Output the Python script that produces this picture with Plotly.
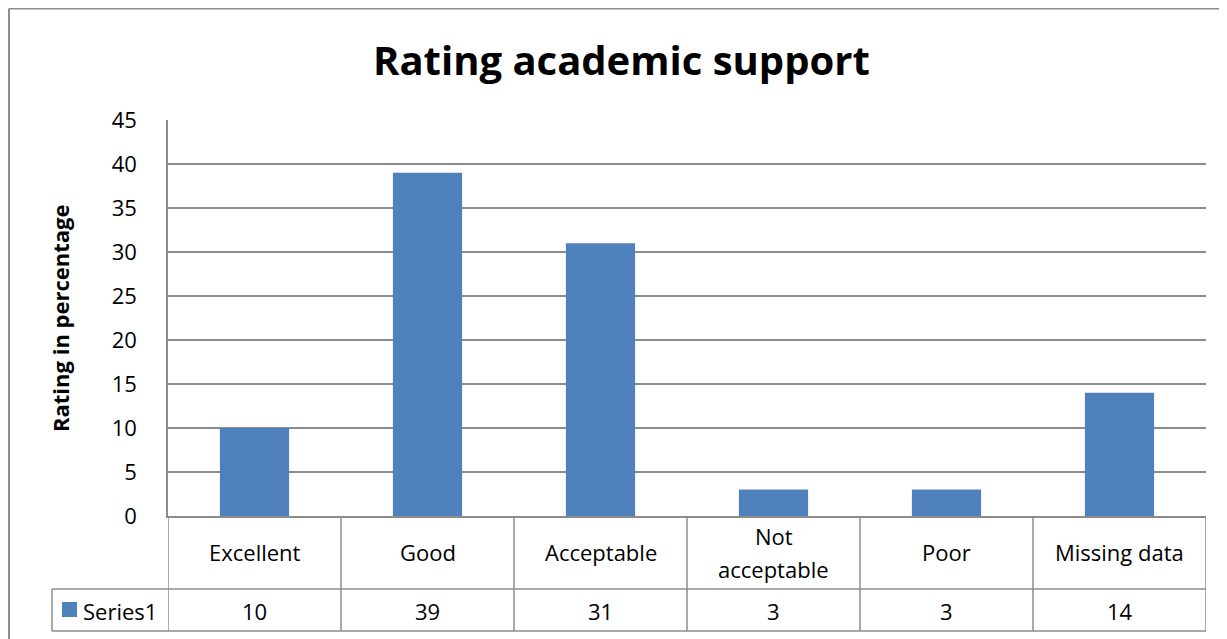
import plotly.graph_objects as go

categories = ["Excellent", "Good", "Acceptable", "Not<br>acceptable", "Poor", "Missing data"]
values = [10, 39, 31, 3, 3, 14]
series_name = "Series1"
y_ticks = [0, 5, 10, 15, 20, 25, 30, 35, 40, 45]

OFF = 8                      # default page body margin
W, H = 1227 - OFF, 639 - OFF
FONT = "'Open Sans', sans-serif"
BAR = "#4F81BD"
LINE = "#8C8C8C"
TXT = "#000000"


def px(xs):
    return (xs - OFF) / W


def py(ys):
    return 1 - (ys - OFF) / H


x0p, x1p = 168, 1206
ytop, ybot = 120, 516
row1, row2 = 589, 631

fig = go.Figure()
fig.add_trace(go.Bar(x=list(range(len(categories))), y=values, marker_color=BAR,
                     marker_line_width=0, name=series_name, showlegend=False,
                     hoverinfo="y"))

shapes = []
annotations = []
n = len(categories)
lw = 1.5
# table horizontal lines
for yy in (row1, row2):
    shapes.append(dict(type="line", xref="paper", yref="paper", x0=px(52), x1=px(x1p),
                       y0=py(yy), y1=py(yy), line=dict(color=LINE, width=lw)))
# table vertical lines (at category boundaries)
for i in range(n + 1):
    shapes.append(dict(type="line", xref="x", yref="paper", x0=i - 0.5, x1=i - 0.5,
                       y0=py(ybot), y1=py(row2), line=dict(color=LINE, width=lw)))
shapes.append(dict(type="line", xref="paper", yref="paper", x0=px(52), x1=px(52),
                   y0=py(row1), y1=py(row2), line=dict(color=LINE, width=lw)))
# legend key
shapes.append(dict(type="rect", xref="paper", yref="paper", x0=px(62), x1=px(77),
                   y0=py(617), y1=py(602), fillcolor=BAR, line=dict(width=0)))
# outer chart border (top and left visible)
shapes.append(dict(type="line", xref="paper", yref="paper", x0=0.0008, x1=1.0,
                   y0=0.9992, y1=0.9992, line=dict(color=LINE, width=2)))
shapes.append(dict(type="line", xref="paper", yref="paper", x0=0.0008, x1=0.0008,
                   y0=0.9992, y1=0.0, line=dict(color=LINE, width=2)))

FS = 22
LINE_GAP = 33
for i, (c, v) in enumerate(zip(categories, values)):
    parts = c.split("<br>")
    k = len(parts)
    for j, part in enumerate(parts):
        yc = 552 + (j - (k - 1) / 2) * LINE_GAP
        annotations.append(dict(x=i, y=py(yc), xref="x", yref="paper", text=part,
                                showarrow=False, font=dict(family=FONT, size=FS, color=TXT),
                                yanchor="middle"))
    annotations.append(dict(x=i, y=py(611), xref="x", yref="paper", text=str(v), showarrow=False,
                            font=dict(family=FONT, size=FS, color=TXT), yanchor="middle"))
annotations.append(dict(x=px(81), y=py(611), xref="paper", yref="paper", text=series_name,
                        showarrow=False, xanchor="left", yanchor="middle",
                        font=dict(family=FONT, size=FS, color=TXT)))
annotations.append(dict(x=px(60), y=py(318), xref="paper", yref="paper",
                        text="<b>Rating in percentage</b>", textangle=-90, showarrow=False,
                        xanchor="center", yanchor="middle",
                        font=dict(family=FONT, size=22, color=TXT)))
annotations.append(dict(x=px(621), y=py(60), xref="paper", yref="paper",
                        text="<b>Rating academic support</b>", showarrow=False,
                        xanchor="center", yanchor="middle",
                        font=dict(family=FONT, size=40, color=TXT)))

fig.update_layout(
    template="none",
    width=W, height=H, margin=dict(l=0, r=0, t=0, b=0, autoexpand=False),
    paper_bgcolor="white", plot_bgcolor="white",
    bargap=0.6, shapes=shapes, annotations=annotations, showlegend=False,
    xaxis=dict(domain=[px(x0p), px(x1p)], range=[-0.5, n - 0.5], showticklabels=False,
               showgrid=False, zeroline=False, showline=True, linecolor=LINE, linewidth=lw,
               ticks="", automargin=False),
    yaxis=dict(domain=[py(ybot), py(ytop)], range=[0, 45], tickvals=y_ticks,
               showgrid=True, gridcolor=LINE, gridwidth=lw, zeroline=False,
               showline=True, linecolor=LINE, linewidth=lw, ticks="",
               ticklabelstandoff=25, automargin=False,
               tickfont=dict(family=FONT, size=FS, color=TXT)),
)

fig.write_html("out.html")
